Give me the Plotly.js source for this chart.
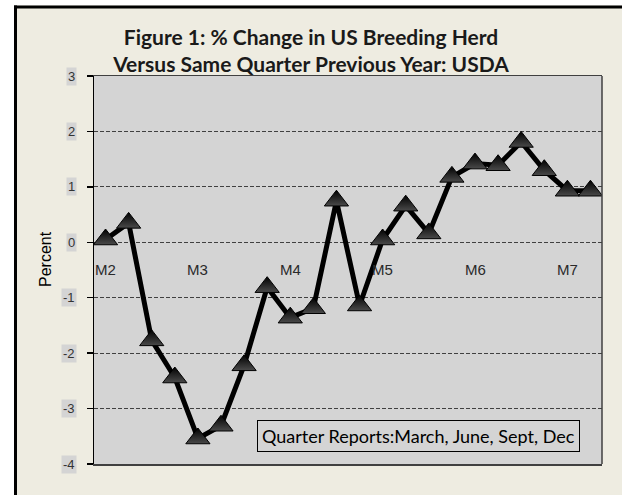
<!DOCTYPE html>
<html>
<head>
<meta charset="utf-8">
<script src="https://cdn.plot.ly/plotly-3.0.1.min.js"></script>
<style>html,body{margin:0;padding:0;background:#fff;}#chart{width:622px;height:495px;}</style>
</head>
<body>
<div id="chart"></div>
<script>
// Quarterly reports (March, June, Sept, Dec), one category per report
const categories = [
  'M2 Mar','M2 Jun','M2 Sep','M2 Dec',
  'M3 Mar','M3 Jun','M3 Sep','M3 Dec',
  'M4 Mar','M4 Jun','M4 Sep','M4 Dec',
  'M5 Mar','M5 Jun','M5 Sep','M5 Dec',
  'M6 Mar','M6 Jun','M6 Sep','M6 Dec',
  'M7 Mar','M7 Jun'
];
// % change vs same quarter previous year
const pctChange = [0.05, 0.35, -1.77, -2.44, -3.54, -3.31, -2.22, -0.81, -1.36, -1.19, 0.75,
                   -1.14, 0.05, 0.66, 0.16, 1.18, 1.42, 1.39, 1.81, 1.30, 0.93, 0.93];
// tick labels
const xTickLabels = ['M2','M3','M4','M5','M6','M7'];
const xTickCats = ['M2 Mar','M3 Mar','M4 Mar','M5 Mar','M6 Mar','M7 Mar'];
const yTickVals = [3, 2, 1, 0, -1, -2, -3, -4];
const yTickText = ['3','2','1','0','-1','-2','-3','-4'];

const W = 508, H = 388, L = 94, T = 76;
const px = v => (v - L) / W;          // page x -> paper x
const py = v => (T + H - v) / H;      // page y -> paper y

const annotations = [];
xTickLabels.forEach((t, i) => {
  annotations.push({
    xref: 'x', yref: 'y', x: xTickCats[i], y: 0, text: t, showarrow: false,
    yanchor: 'top', yshift: -17,
    font: {family: 'Arial, Liberation Sans, sans-serif', size: 15, color: '#2a2a2a'}
  });
});
yTickVals.forEach((v, i) => {
  annotations.push({
    xref: 'paper', yref: 'y', x: px(77), y: v, text: yTickText[i], showarrow: false,
    xanchor: 'right', yanchor: 'middle', bgcolor: '#d4d4d4', borderpad: 1,
    font: {family: 'Arial, Liberation Sans, sans-serif', size: 13, color: '#333'}
  });
});
annotations.push({
  xref: 'paper', yref: 'paper', x: px(45), y: py(259), text: 'Percent', showarrow: false,
  textangle: -90, xanchor: 'center', yanchor: 'middle',
  font: {family: 'Arial, Liberation Sans, sans-serif', size: 16, color: '#000'}
});
annotations.push({
  xref: 'paper', yref: 'paper', x: px(418), y: py(436), text: 'Quarter Reports:March, June, Sept, Dec',
  showarrow: false, xanchor: 'center', yanchor: 'middle',
  bgcolor: '#d4d4d4', bordercolor: '#000', borderwidth: 1, borderpad: 4,
  font: {family: 'Lato, Open Sans, sans-serif', size: 18, color: '#000'}
});

const trace = {
  type: 'scatter', mode: 'lines+markers',
  x: categories, y: pctChange,
  line: {color: '#000', width: 5},
  marker: {symbol: 'triangle-up', size: 21, color: '#000',
           line: {color: '#000', width: 1},
           gradient: {type: 'vertical', color: '#4a4a4a'}},
  hoverinfo: 'x+y'
};

const layout = {
  width: 622, height: 495,
  margin: {l: L, r: 622 - L - W, t: T, b: 495 - T - H, pad: 0},
  paper_bgcolor: '#eeece1', plot_bgcolor: '#d4d4d4',
  showlegend: false,
  title: {
    text: 'Figure 1: % Change in US Breeding Herd<br>Versus Same Quarter Previous Year: USDA',
    xref: 'container', x: 0.5, xanchor: 'center',
    yref: 'container', y: 1 - 45 / 495, yanchor: 'middle',
    font: {family: 'Lato, Open Sans, sans-serif', size: 21, color: '#1a1a1a', weight: 'bold'}
  },
  xaxis: {
    type: 'category', range: [-0.5, 21.5], showgrid: false, zeroline: false,
    showticklabels: false, ticks: '',
    showline: true, mirror: true, linecolor: '#404040', linewidth: 1.5, fixedrange: true
  },
  yaxis: {
    range: [-4, 3], tickvals: yTickVals, showticklabels: false,
    ticks: 'outside', ticklen: 6, tickwidth: 1.5, tickcolor: '#000',
    showgrid: true, gridcolor: '#404040', gridwidth: 1, griddash: '4px,2px',
    zeroline: false, showline: true, linecolor: '#000', linewidth: 1.5, fixedrange: true
  },
  annotations: annotations,
  shapes: [
    {type: 'line', xref: 'paper', yref: 'paper', x0: 1, x1: 1, y0: 0, y1: 1,
     line: {color: '#404040', width: 1.5}, layer: 'above'},
    // white outer strips
    {type: 'rect', xref: 'paper', yref: 'paper', x0: px(-5), x1: px(14), y0: py(500), y1: py(-5),
     fillcolor: '#fff', line: {width: 0}, layer: 'above'},
    {type: 'rect', xref: 'paper', yref: 'paper', x0: px(-5), x1: px(630), y0: py(5.5), y1: py(-5),
     fillcolor: '#fff', line: {width: 0}, layer: 'above'},
    // black frame lines
    {type: 'line', xref: 'paper', yref: 'paper', x0: px(14), x1: px(630), y0: py(7), y1: py(7),
     line: {color: '#000', width: 3}, layer: 'above'},
    {type: 'line', xref: 'paper', yref: 'paper', x0: px(15.5), x1: px(15.5), y0: py(5.5), y1: py(500),
     line: {color: '#000', width: 3}, layer: 'above'}
  ]
};

Plotly.newPlot('chart', [trace], layout, {displayModeBar: false, staticPlot: true});
</script>
</body>
</html>
